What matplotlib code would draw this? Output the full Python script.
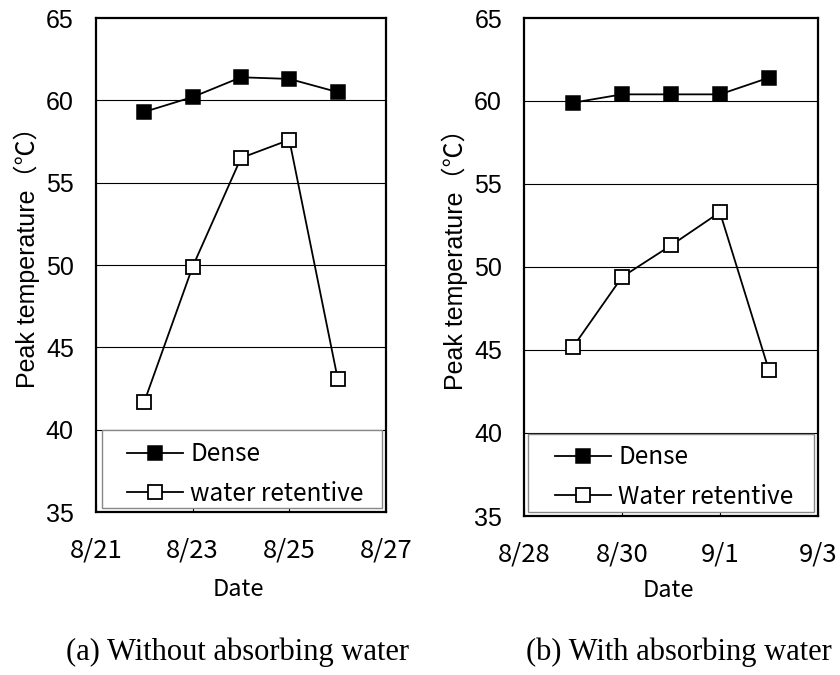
import matplotlib
matplotlib.use('Agg')
import matplotlib.pyplot as plt
import matplotlib.dates as mdates
from matplotlib.patches import Rectangle
import numpy as np

# ---- data ----
dates_a = ['2010-08-22', '2010-08-23', '2010-08-24', '2010-08-25', '2010-08-26']
dense_a = [59.3, 60.2, 61.4, 61.3, 60.5]
water_a = [41.7, 49.9, 56.5, 57.6, 43.1]
xticks_a = ['2010-08-21', '2010-08-23', '2010-08-25', '2010-08-27']
xticklabels_a = ['8/21', '8/23', '8/25', '8/27']
labels_a = ['Dense', 'water retentive']
caption_a = '(a) Without absorbing water'

dates_b = ['2010-08-29', '2010-08-30', '2010-08-31', '2010-09-01', '2010-09-02']
dense_b = [59.9, 60.4, 60.4, 60.4, 61.4]
water_b = [45.2, 49.4, 51.3, 53.3, 43.8]
xticks_b = ['2010-08-28', '2010-08-30', '2010-09-01', '2010-09-03']
xticklabels_b = ['8/28', '8/30', '9/1', '9/3']
labels_b = ['Dense', 'Water retentive']
caption_b = '(b) With absorbing water'

yticks = [35, 40, 45, 50, 55, 60, 65]
ylabel = 'Peak temperature（℃）'
xlabel = 'Date'

CJK = ['Noto Sans CJK JP', 'DejaVu Sans']
SANS = ['Liberation Sans', 'Noto Sans CJK JP', 'DejaVu Sans']

fig = plt.figure(figsize=(8.4, 6.75), dpi=100)

panels = [
    dict(rect=[96/840, 1-512/675, 290/840, 494/675], dates=dates_a, dense=dense_a, water=water_a,
         xt=xticks_a, xtl=xticklabels_a, labels=labels_a, cap=caption_a, capx=237/840,
         box=(0.0197, 0.008, 0.966, 0.158), leg=(0.107, 0.077), ylc=(-0.193, 0.528), xlc=(0.49, -0.134)),
    dict(rect=[524.3/840, 1-516/675, 293.4/840, 498/675], dates=dates_b, dense=dense_b, water=water_b,
         xt=xticks_b, xtl=xticklabels_b, labels=labels_b, cap=caption_b, capx=679/840,
         box=(0.0136, 0.0086, 0.975, 0.1566), leg=(0.105, 0.078), ylc=(-0.191, 0.528), xlc=(0.49, -0.127)),
]

for p in panels:
    ax = fig.add_axes(p['rect'])
    x = mdates.date2num(np.array(p['dates'], dtype='datetime64[D]'))
    xt = mdates.date2num(np.array(p['xt'], dtype='datetime64[D]'))
    l1, = ax.plot(x, p['dense'], color='black', lw=1.3, marker='s', ms=10,
                  mfc='black', mec='black', mew=1.1, label=p['labels'][0], zorder=3)
    l2, = ax.plot(x, p['water'], color='black', lw=1.3, marker='s', ms=10,
                  mfc='white', mec='black', mew=1.3, label=p['labels'][1], zorder=3)
    ax.set_xlim(xt[0], xt[-1])
    ax.set_ylim(35, 65)
    ax.set_xticks(xt)
    ax.set_xticklabels(p['xtl'], family=CJK, fontsize=18.5)
    ax.set_yticks(yticks)
    ax.set_yticklabels([str(v) for v in yticks], family=SANS, fontsize=18)
    ax.tick_params(axis='y', length=0, pad=16)
    ax.tick_params(axis='x', direction='in', length=6, width=0.8, pad=18)
    for yv in yticks[1:-1]:
        ax.axhline(yv, color='black', lw=0.8, zorder=1)
    for s in ax.spines.values():
        s.set_linewidth(1.6)
    ax.set_ylabel(ylabel, family=SANS, fontsize=18)
    ax.yaxis.set_label_coords(*p['ylc'])
    ax.set_xlabel(xlabel, family=CJK, fontsize=17)
    ax.xaxis.set_label_coords(*p['xlc'])
    bx = p['box']
    ax.add_patch(Rectangle((bx[0], bx[1]), bx[2], bx[3], transform=ax.transAxes,
                           facecolor='white', edgecolor='#888888', lw=1.0, zorder=4))
    leg = ax.legend(handles=[l1, l2], loc='center left', bbox_to_anchor=p['leg'],
                    frameon=False, borderpad=0, borderaxespad=0, handlelength=2.3,
                    handletextpad=0.3, labelspacing=0.55, prop=dict(family=CJK, size=17.5))
    leg.set_zorder(5)
    fig.text(p['capx'], 1 - 652/675, p['cap'],
             ha='center', va='center', family=['Liberation Serif', 'DejaVu Serif'], fontsize=22)

fig.savefig('out.png', dpi=100)
